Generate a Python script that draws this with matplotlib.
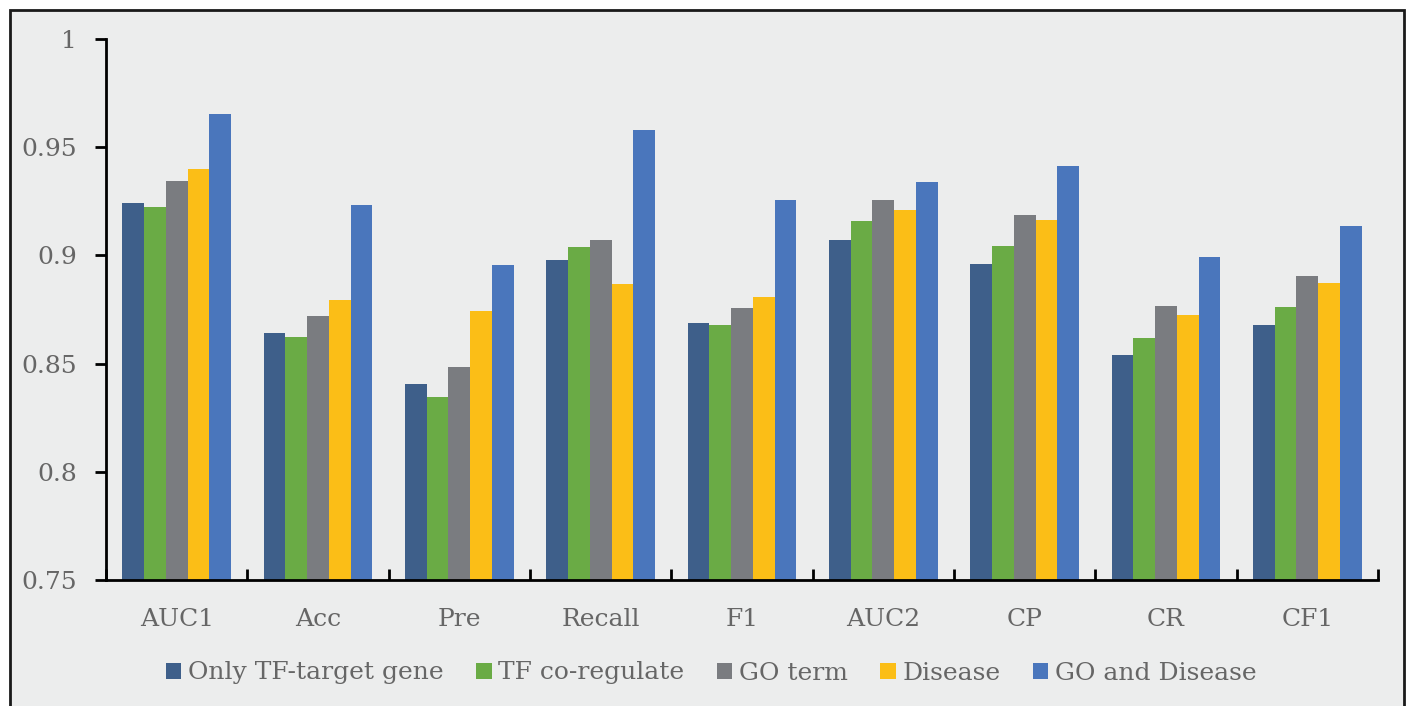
import matplotlib.pyplot as plt
import numpy as np
from matplotlib.patches import Rectangle

# Metrics and results for each feature setting
metrics = ["AUC1", "Acc", "Pre", "Recall", "F1", "AUC2", "CP", "CR", "CF1"]
series_names = ["Only TF-target gene", "TF co-regulate", "GO term", "Disease", "GO and Disease"]

only_tf = [0.9242, 0.8641, 0.8406, 0.8979, 0.8688, 0.9071, 0.8960, 0.8540, 0.8678]
tf_coreg = [0.9224, 0.8623, 0.8346, 0.9039, 0.8678, 0.9159, 0.9043, 0.8618, 0.8762]
go_term = [0.9344, 0.8720, 0.8484, 0.9071, 0.8757, 0.9256, 0.9187, 0.8766, 0.8905]
disease = [0.9399, 0.8794, 0.8743, 0.8868, 0.8808, 0.9210, 0.9164, 0.8725, 0.8872]
go_disease = [0.9653, 0.9233, 0.8956, 0.9580, 0.9256, 0.9339, 0.9413, 0.8993, 0.9136]

colors = ["#3E5F8A", "#6AAB45", "#7A7C80", "#FBBE17", "#4A76BC"]
text_color = "#666666"

plt.rcParams['font.family'] = ['DejaVu Serif']

fig = plt.figure(figsize=(14.11, 7.06), dpi=100)
fig.patch.set_facecolor("white")

# light gray panel with a dark frame
panel = Rectangle((10 / 1411, -0.01), (1404 - 10) / 1411, 1 - 10 / 706 + 0.01,
                  transform=fig.transFigure, facecolor="#ECEDED",
                  edgecolor="#1a1a1a", linewidth=2, zorder=-5)
fig.patches.append(panel)

ax = fig.add_axes([106 / 1411, 1 - 580 / 706, (1378 - 106) / 1411, (580 - 39) / 706])
ax.set_facecolor("none")

data = [only_tf, tf_coreg, go_term, disease, go_disease]
x = np.arange(len(metrics))
group_w = 0.77
bar_w = group_w / len(data)
for i, (vals, name, c) in enumerate(zip(data, series_names, colors)):
    offs = -group_w / 2 + bar_w * (i + 0.5)
    ax.bar(x + offs, vals, width=bar_w, color=c, label=name, zorder=2)

ax.set_xlim(-0.5, len(metrics) - 0.5)
ax.set_ylim(0.75, 1.0)
ax.set_yticks([0.75, 0.8, 0.85, 0.9, 0.95, 1.0])
ax.set_yticklabels(["0.75", "0.8", "0.85", "0.9", "0.95", "1"])

# category labels between boundary ticks
ax.set_xticks(np.arange(len(metrics) + 1) - 0.5)
ax.set_xticklabels([])
ax.set_xticks(x, minor=True)
ax.set_xticklabels(metrics, minor=True)
ax.tick_params(axis="x", which="major", direction="in", length=8, width=2, color="black")
ax.tick_params(axis="x", which="minor", length=0, pad=20, labelsize=18, labelcolor=text_color)
ax.tick_params(axis="y", direction="out", length=8, width=2, pad=13,
               labelsize=18, labelcolor=text_color)

for side in ["top", "right"]:
    ax.spines[side].set_visible(False)
for side in ["left", "bottom"]:
    ax.spines[side].set_linewidth(2)
    ax.spines[side].set_color("black")

leg = fig.legend(loc="center", bbox_to_anchor=(0.504, 1 - 673 / 706), ncol=5,
                 frameon=False, fontsize=18, handlelength=0.62, handleheight=0.62,
                 handletextpad=0.26, columnspacing=1.3)
for t in leg.get_texts():
    t.set_color(text_color)

fig.savefig("out.png", dpi=100)
